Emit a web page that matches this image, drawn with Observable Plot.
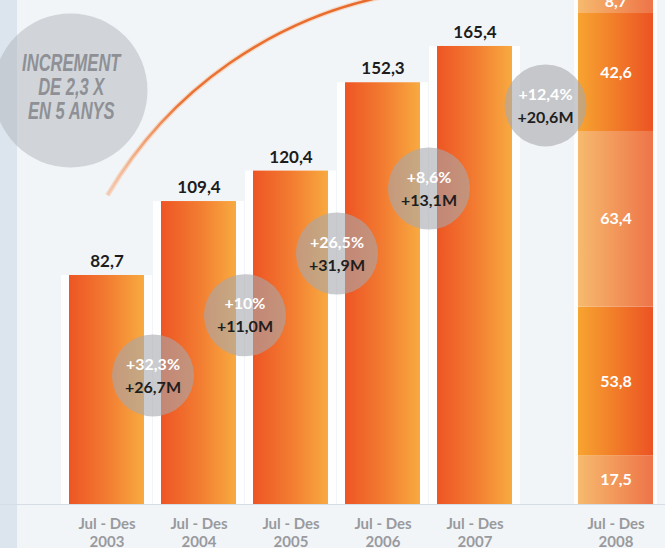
<!DOCTYPE html>
<html><head><meta charset="utf-8">
<script src="https://cdn.jsdelivr.net/npm/d3@7"></script>
<script src="https://cdn.jsdelivr.net/npm/@observablehq/plot@0.6"></script>
<style>
html,body{margin:0;padding:0;background:#f2f5f8;}
#chart svg{display:block;}
</style></head><body><div id="chart"></div>
<script>
// ---- data ----
const years = ["2003", "2004", "2005", "2006", "2007", "2008"];
const periodLabel = "Jul - Des";
const totals = [82.7, 109.4, 120.4, 152.3, 165.4];      // 2003–2007
const parts2008 = [17.5, 53.8, 63.4, 42.6, 8.7];        // 2008, bottom → top
const growthPct = ["+32,3%", "+10%", "+26,5%", "+8,6%", "+12,4%"];
const growthAbs = ["+26,7M", "+11,0M", "+31,9M", "+13,1M", "+20,6M"];
const bubbleLevel = [46.6, 68.3, 90.6, 114.1, 144.1];
const headline = ["INCREMENT", "DE 2,3 X", "EN 5 ANYS"];

// ---- derived tables ----
const bars = totals.map((v, i) => ({year: years[i], value: v}));
const seg = parts2008.map((v, i) => ({year: "2008", value: v, fill: i % 2 === 0 ? "url(#gLight)" : "url(#gDark)"}));
const bubbles = growthPct.map((p, i) => ({to: years[i + 1], pct: p, abs: growthAbs[i], level: bubbleLevel[i]}));
const fmt = v => d3.format(".1f")(v).replace(".", ",");
const shift2008 = 49;

const defs = () => {
  const d = d3.create("svg:defs");
  const add = (id, stops, a = [0, 0, 1, 0]) => {
    const g = d.append("linearGradient").attr("id", id)
      .attr("x1", a[0]).attr("y1", a[1]).attr("x2", a[2]).attr("y2", a[3]);
    stops.forEach(([o, c, op = 1]) => g.append("stop").attr("offset", o).attr("stop-color", c).attr("stop-opacity", op));
  };
  add("gMain", [[0, "#ee5524"], [0.5, "#f27b31"], [1, "#f8aa40"]]);
  add("gDark", [[0, "#f7a430"], [1, "#ec5323"]]);
  add("gLight", [[0, "#f6ba6e"], [1, "#ee7448"]]);
  add("gArc", [[0, "#f4a070", 0.3], [0.35, "#eb7434", 1], [1, "#e8692a", 1]], [0, 1, 1, 0]);
  return d.node();
};

const arc = (index, {x, y}) => {
  const bw = x.bandwidth ? x.bandwidth() : 75.4;
  const x0 = x("2003") + bw / 2 + 1, y0 = y(111.5);
  const x1 = x("2006") + bw / 2 + 12, y1 = y(184);
  const p = `M${x0},${y0} A421,421 0 0,1 ${x1},${y1}`;
  const g = d3.create("svg:g");
  g.append("path").attr("d", p).attr("fill", "none").attr("stroke", "#f6c09c").attr("stroke-opacity", 0.5).attr("stroke-width", 5);
  g.append("path").attr("d", p).attr("fill", "none").attr("stroke", "url(#gArc)").attr("stroke-width", 2.5);
  return g.node();
};

const lbl = {fontWeight: 700};

const chart = Plot.plot({
  width: 665,
  height: 548,
  marginLeft: 52,
  marginRight: 44,
  marginTop: 0,
  marginBottom: 44,
  style: {background: "linear-gradient(to right, #dce5ee 0px, #dce5ee 17px, #f2f5f8 17px)", fontFamily: "Lato, 'Open Sans', sans-serif"},
  x: {domain: years, padding: 0.18, axis: null},
  y: {domain: [0, 182], axis: null},
  color: {type: "identity"},
  marks: [
    defs,
    // headline bubble
    Plot.dot([0], {frameAnchor: "top-left", dx: 18, dy: 90, r: 77, fill: "#a5a9ae", fillOpacity: 0.42}),
    Plot.text([headline.join("\n")], {frameAnchor: "top-left", textAnchor: "middle", lineAnchor: "middle",
      dx: 18.5, dy: 87, fontSize: 23, lineHeight: 1.04,
      fontWeight: 700, fontStyle: "italic", fill: "#8e9095",
      fontFamily: "'Liberation Sans', Arial, sans-serif"}),
    arc,
    // baseline
    Plot.ruleY([0], {stroke: "#d6dde4", insetLeft: -52, insetRight: -44}),
    // halos
    Plot.barY(bars, {x: "year", y: "value", fill: "white", fillOpacity: 0.9, insetLeft: -8, insetRight: -8}),
    Plot.barY(seg, {x: "year", y: "value", fill: "white", fillOpacity: 0.8, insetLeft: -4, insetRight: -4, dx: shift2008}),
    // bars
    Plot.barY(bars, {x: "year", y: "value", fill: "url(#gMain)"}),
    Plot.barY(seg, {x: "year", y: "value", fill: "fill", dx: shift2008}),
    // value labels
    Plot.text(bars, {x: "year", y: "value", text: d => fmt(d.value), dy: -14, fontSize: 17, ...lbl, fill: "#1c1c1c"}),
    Plot.text(seg, Plot.stackY({x: "year", y: "value", text: d => fmt(d.value), dx: shift2008, fontSize: 16, ...lbl, fill: "white"})),
    // growth bubbles
    Plot.dot(bubbles.slice(0, 4), {x: "to", y: "level", r: 41, fill: "#a6a8ad", fillOpacity: 0.6, dx: -46}),
    Plot.dot(bubbles.slice(4), {x: "to", y: "level", r: 41, fill: "#a6a8ad", fillOpacity: 0.6, dx: shift2008 - 70.5}),
    Plot.text(bubbles.slice(0, 4), {x: "to", y: "level", text: "pct", dx: -46, dy: -11, fontSize: 16, ...lbl, fill: "white"}),
    Plot.text(bubbles.slice(0, 4), {x: "to", y: "level", text: "abs", dx: -46, dy: 12, fontSize: 16, ...lbl, fill: "#1e1e1e"}),
    Plot.text(bubbles.slice(4), {x: "to", y: "level", text: "pct", dx: shift2008 - 70.5, dy: -11, fontSize: 16, ...lbl, fill: "white"}),
    Plot.text(bubbles.slice(4), {x: "to", y: "level", text: "abs", dx: shift2008 - 70.5, dy: 12, fontSize: 16, ...lbl, fill: "#1e1e1e"}),
    // x labels
    Plot.text(years.slice(0, 5), {x: d => d, text: d => periodLabel + "\n" + d, frameAnchor: "bottom", lineAnchor: "middle", dy: 28, lineHeight: 1.2, fontSize: 15, ...lbl, fill: "#999a9e"}),
    Plot.text(years.slice(5), {x: d => d, text: d => periodLabel + "\n" + d, frameAnchor: "bottom", lineAnchor: "middle", dy: 28, dx: shift2008, lineHeight: 1.2, fontSize: 15, ...lbl, fill: "#999a9e"})
  ]
});
document.getElementById("chart").appendChild(chart);
// condense the headline lettering (the original uses a condensed typeface)
chart.querySelectorAll("text").forEach(t => {
  if (!t.textContent.includes("INCREMENT")) return;
  const bb = t.getBBox();
  const cx = bb.x + bb.width / 2;
  const wrap = document.createElementNS("http://www.w3.org/2000/svg", "g");
  t.parentNode.insertBefore(wrap, t);
  wrap.appendChild(t);
  // bbox is in the text's own user space (before its own transform)
  const tr = t.getAttribute("transform") || "";
  const m = /translate\(([-\d.]+)[ ,]+([-\d.]+)\)/.exec(tr);
  const ox = m ? +m[1] : 0;
  const px = ox + cx;
  wrap.setAttribute("transform", `translate(${px},0) scale(0.72,1) translate(${-px},0)`);
});
</script>
</body></html>
